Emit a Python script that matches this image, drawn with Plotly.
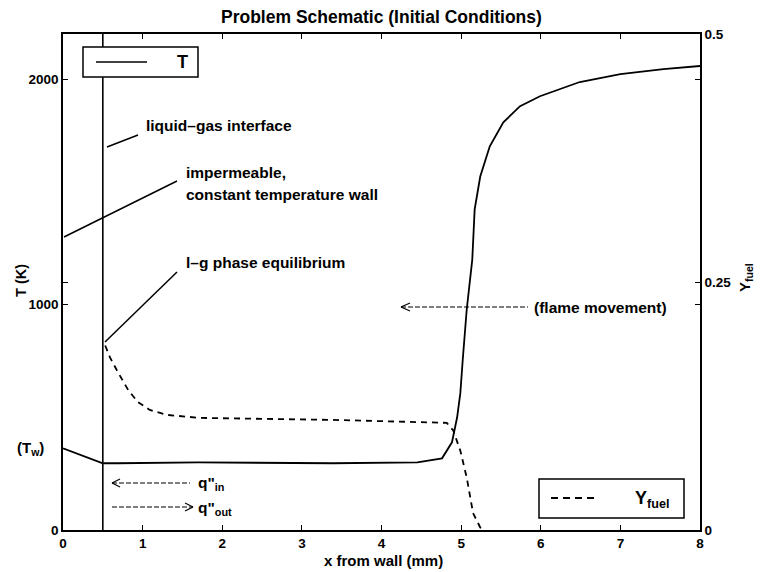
import plotly.graph_objects as go

# ---- data ----
x_T = [0.0, 0.24, 0.5, 0.69, 1.7, 3.39, 4.45, 4.76, 4.885, 4.95, 4.99, 5.02, 5.07, 5.14,
       5.17, 5.24, 5.36, 5.53, 5.74, 5.99, 6.49, 7.0, 7.54, 8.0]
T_vals = [362, 331, 296, 296, 300, 296, 300, 318, 389, 500, 607, 754, 977, 1199,
          1422, 1568, 1702, 1808, 1880, 1924, 1987, 2022, 2044, 2058]

x_Y = [0.53, 0.59, 0.69, 0.82, 0.94, 1.09, 1.31, 1.72, 3.39, 4.65, 4.82, 4.9, 4.99, 5.07, 5.15, 5.24, 5.3]
Y_vals = [0.186, 0.174, 0.159, 0.141, 0.129, 0.121, 0.116, 0.113, 0.111, 0.109, 0.108,
          0.1005, 0.080, 0.053, 0.017, 0.0025, 0.0]

x_ticks = [0, 1, 2, 3, 4, 5, 6, 7, 8]
T_ticks = [0, 1000, 2000]
Y_ticks = [0, 0.25, 0.5]
Y_tick_labels = ["0", "0.25", "0.5"]
interface_x = [0.5]

FONT = "Liberation Sans, Arial, sans-serif"
W, H = 760, 572
L, R, TOP, B = 63, 60, 34, 42


def px(xpix):
    return (xpix - L) / (W - L - R)


def py(ypix):
    return (H - B - ypix) / (H - TOP - B)


fig = go.Figure()
fig.add_trace(go.Scatter(x=x_T, y=T_vals, mode="lines", name="T",
                         line=dict(color="black", width=1.8), showlegend=False))
fig.add_trace(go.Scatter(x=x_Y, y=Y_vals, mode="lines", name="Yfuel", yaxis="y2",
                         line=dict(color="black", width=1.8, dash="6px,5px"), showlegend=False))

shapes = []
# interface vertical line
shapes.append(dict(type="line", xref="x", yref="paper", x0=interface_x[0], x1=interface_x[0],
                   y0=0, y1=1, line=dict(color="black", width=1.6)))


def seg(x0, y0, x1, y1, dash="solid", w=1.5):
    shapes.append(dict(type="line", xref="paper", yref="paper",
                       x0=px(x0), y0=py(y0), x1=px(x1), y1=py(y1),
                       line=dict(color="black", width=w, dash=dash)))


# leader lines
seg(107, 147, 138, 135)
seg(64, 237, 177, 181)
seg(105, 342, 177, 272)
# flame movement arrow
seg(401, 307, 528, 307, dash="5px,2px", w=1.2)
seg(401, 307, 410, 303, w=1.2)
seg(401, 307, 410, 311, w=1.2)
# q in arrow
seg(112, 483, 190, 483, dash="5px,2px", w=1.2)
seg(112, 483, 120, 479, w=1.2)
seg(112, 483, 120, 487, w=1.2)
# q out arrow
seg(112, 507, 193, 507, dash="5px,2px", w=1.2)
seg(193, 507, 185, 503, w=1.2)
seg(193, 507, 185, 511, w=1.2)
# legend T box
shapes.append(dict(type="rect", xref="paper", yref="paper", x0=px(83), x1=px(198),
                   y0=py(77), y1=py(47), line=dict(color="black", width=1.5), fillcolor="white"))
seg(96, 62, 147, 62, w=1.5)
# legend Yfuel box
shapes.append(dict(type="rect", xref="paper", yref="paper", x0=px(539), x1=px(684),
                   y0=py(518), y1=py(479), line=dict(color="black", width=1.5), fillcolor="white"))
seg(551, 498, 597, 498, dash="7px,5px", w=1.8)

annotations = []


def txt(xpix, ypix, text, size=15.5, xanchor="left", yanchor="middle", angle=0):
    annotations.append(dict(xref="paper", yref="paper", x=px(xpix), y=py(ypix),
                            text="<b>" + text + "</b>",
                            showarrow=False, xanchor=xanchor, yanchor=yanchor, textangle=angle,
                            font=dict(family=FONT, size=size, color="black")))


txt(144, 126, "liquid–gas interface")
txt(184, 172, "impermeable,")
txt(184, 194, "constant temperature wall")
txt(184, 262, "l–g phase equilibrium")
txt(532, 307, "(flame movement)")
txt(196, 483, "q\"<sub>in</sub>")
txt(196, 508, "q\"<sub>out</sub>")
txt(15, 448, "(T<sub>w</sub>)", size=15)
txt(175, 62, "T", size=18)
txt(633, 499, "Y<sub>fuel</sub>", size=18)
# axis titles
txt(381, 17, "Problem Schematic (Initial Conditions)", size=17.5, xanchor="center")
txt(383, 560, "x from wall (mm)", size=15, xanchor="center")
txt(21, 281, "T (K)", size=14.5, xanchor="center", angle=-90)
txt(745, 277, "Y<sub>fuel</sub>", size=15, xanchor="center", angle=-90)

tickfont = dict(family=FONT, size=13.5, color="black", weight="bold")
axis_common = dict(ticks="inside", ticklen=5, tickwidth=1.3, tickcolor="black",
                   showline=True, linecolor="black", linewidth=1.6, mirror="ticks",
                   showgrid=False, zeroline=False, tickfont=tickfont)

fig.update_layout(
    width=W, height=H,
    margin=dict(l=L, r=R, t=TOP, b=B),
    paper_bgcolor="white", plot_bgcolor="white",
    shapes=shapes, annotations=annotations,
    showlegend=False,
    xaxis=dict(range=[0, 8], tickvals=x_ticks, **axis_common),
    yaxis=dict(range=[0, 2200], tickvals=T_ticks, **axis_common),
    yaxis2=dict(range=[0, 0.5], tickvals=Y_ticks, ticktext=Y_tick_labels, overlaying="y",
                side="right", **axis_common),
)

fig.write_html("out.html")
